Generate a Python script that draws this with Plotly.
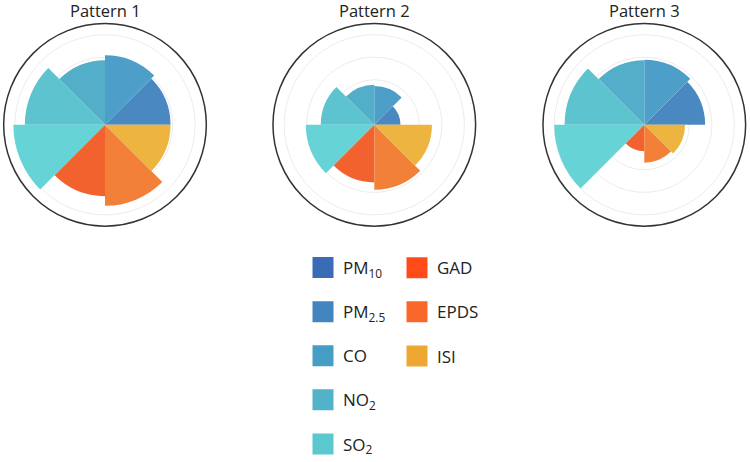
import plotly.graph_objects as go

# ---- data ----
categories = ["PM<sub>10</sub>", "PM<sub>2.5</sub>", "CO", "NO<sub>2</sub>", "SO<sub>2</sub>",
              "GAD", "EPDS", "ISI"]
legend_colors = ["#3a6cb5", "#4285bf", "#469dc5", "#52b2c9", "#5bc8cf",
                 "#ff4a1a", "#f9682a", "#eda732"]
bar_colors = ["#4a88c2", "#4d9ec8", "#52aec9", "#5cc3cf", "#66d4d6",
              "#f2622f", "#f28038", "#edb440"]
patterns = ["Pattern 1", "Pattern 2", "Pattern 3"]
pattern1 = [2.91, 3.09, 2.87, 3.56, 4.07, 3.17, 3.60, 2.91]
pattern2 = [1.16, 1.72, 1.78, 2.38, 3.04, 2.56, 2.88, 2.56]
pattern3 = [2.70, 2.89, 2.87, 3.54, 4.00, 1.17, 1.68, 1.81]
values = [pattern1, pattern2, pattern3]

n = len(categories)
sector = 360.0 / n
polar_names = ["polar", "polar2", "polar3"]

fig = go.Figure()

for p, vals in enumerate(values):
    for i, cat in enumerate(categories):
        fig.add_trace(go.Barpolar(
            r=[vals[i]],
            theta=[sector * i + sector / 2],
            width=[sector],
            name=cat,
            legendgroup=cat,
            showlegend=False,
            marker=dict(color=bar_colors[i], line=dict(width=0)),
            subplot=polar_names[p],
        ))

# legend entries (square swatches)
for i, cat in enumerate(categories):
    fig.add_trace(go.Scatterpolar(
        r=[None], theta=[None], mode="markers", name=cat, legendgroup=cat,
        marker=dict(symbol="square", size=16, color=legend_colors[i],
                    line=dict(width=5, color=legend_colors[i])),
        legend="legend" if i < 5 else "legend2",
        subplot="polar",
    ))

W, H = 750, 462
centers_x = [105.0, 374.3, 644.3]
cy = 128.7
rad = 104.5

polar_common = dict(
    bgcolor="white",
    bargap=0,
    radialaxis=dict(range=[0, 4.5], tick0=0, dtick=1, showticklabels=False,
                    ticks="", showline=False, gridcolor="#ececec", gridwidth=1),
    angularaxis=dict(showgrid=False, showticklabels=False, ticks="",
                     linecolor="#333333", linewidth=1.5,
                     direction="counterclockwise", rotation=0),
)

layout_polars = {}
annotations = []
for p, name in enumerate(polar_names):
    cx = centers_x[p]
    layout_polars[name] = dict(
        domain=dict(x=[(cx - rad) / W, (cx + rad) / W],
                    y=[1 - (cy + rad) / H, 1 - (cy - rad) / H]),
        **polar_common,
    )
    annotations.append(dict(
        text=patterns[p], x=cx / W, y=1 - 10.5 / H, xref="paper", yref="paper",
        xanchor="center", yanchor="middle", showarrow=False,
        font=dict(family="Open Sans", size=16.5, color="#222222"),
    ))

legend_font = dict(family="Open Sans", size=17, color="#222222")
fig.update_layout(
    width=W, height=H,
    margin=dict(l=0, r=0, t=0, b=0),
    paper_bgcolor="white",
    plot_bgcolor="white",
    annotations=annotations,
    legend=dict(x=303 / W, y=1 - 258 / H, xanchor="left", yanchor="top",
                font=legend_font, tracegroupgap=19, bgcolor="rgba(0,0,0,0)"),
    legend2=dict(x=397 / W, y=1 - 258 / H, xanchor="left", yanchor="top",
                 font=legend_font, tracegroupgap=19, bgcolor="rgba(0,0,0,0)"),
    **layout_polars,
)

fig.write_html("out.html")
